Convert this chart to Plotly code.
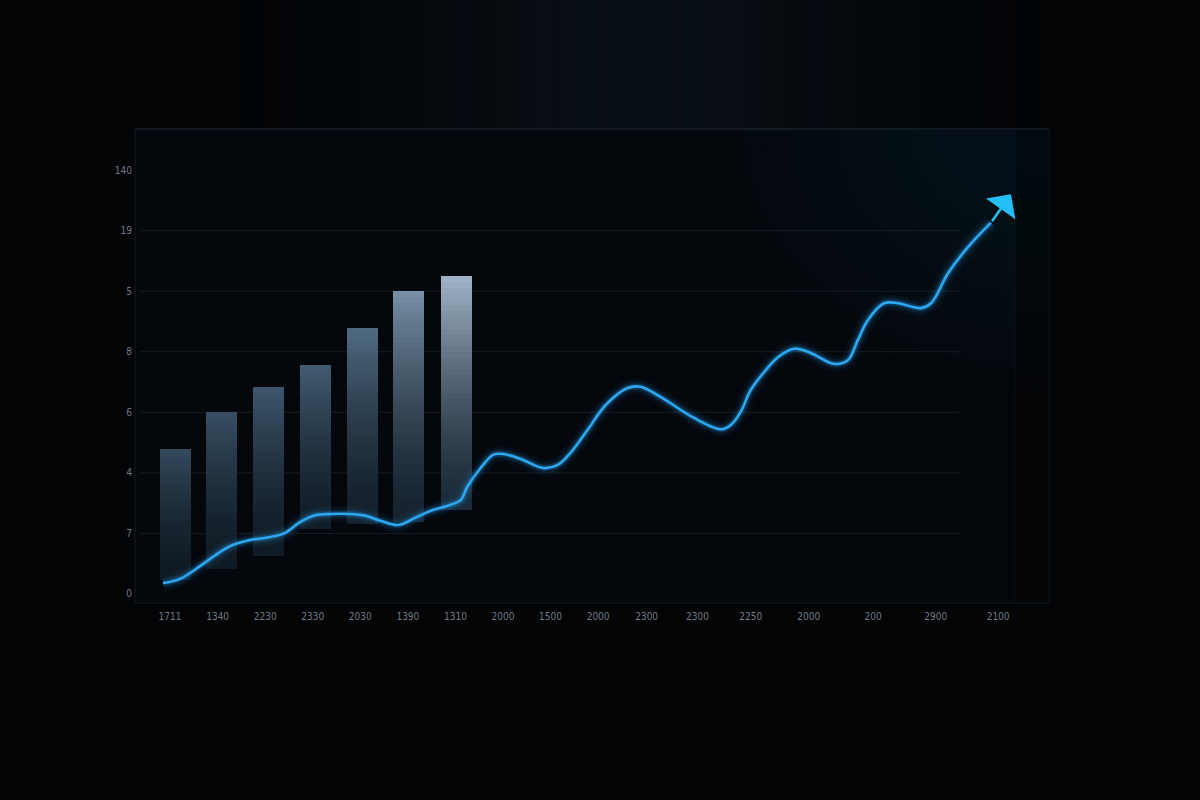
import math
import plotly.graph_objects as go

# ---------------- data ----------------
y_tick_vals = [0, 1, 2, 3, 4, 5, 6, 7]
y_tick_labels = ["0", "7", "4", "6", "8", "5", "19", "140"]

x_tick_vals = [0, 1, 2, 3, 4, 5, 6, 7, 8, 9, 10.02, 11.09, 12.21, 13.43, 14.78, 16.1, 17.41]
x_tick_labels = ["1711", "1340", "2230", "2330", "2030", "1390", "1310", "2000", "1500",
                 "2000", "2300", "2300", "2250", "2000", "200", "2900", "2100"]

bar_x = [0.11, 1.09, 2.07, 3.06, 4.04, 5.02, 6.02]
bar_top = [2.39, 3.00, 3.41, 3.78, 4.39, 5.00, 5.25]
bar_bottom = [0.23, 0.41, 0.63, 1.07, 1.16, 1.19, 1.39]
bar_top_colors = ["#33495c", "#384f63", "#3d566b", "#425c72", "#506b82", "#7790a6", "#a2b5c8"]
bar_bottom_colors = ["#0e1821", "#0f1a23", "#101b25", "#111d27", "#131f2a", "#15222e", "#1a2a38"]

line_x = [-0.15, 0.21, 0.63, 0.95, 1.26, 1.68, 2.11, 2.42, 2.74, 3.05, 3.37, 3.79, 4.11,
          4.42, 4.80, 5.16, 5.47, 5.89, 6.11, 6.25, 6.53, 6.80, 7.01, 7.37, 7.85, 8.15,
          8.42, 8.78, 9.16, 9.62, 9.89, 10.32, 11.01, 11.58, 11.79, 12.00, 12.21, 12.53,
          12.78, 13.12, 13.47, 13.96, 14.25, 14.46, 14.67, 15.01, 15.31, 15.79, 16.00,
          16.36, 16.78, 17.26]
line_y = [0.18, 0.25, 0.46, 0.64, 0.79, 0.89, 0.94, 1.01, 1.19, 1.30, 1.32, 1.32, 1.29,
          1.21, 1.14, 1.26, 1.37, 1.47, 1.55, 1.77, 2.08, 2.30, 2.31, 2.23, 2.08, 2.13,
          2.33, 2.71, 3.12, 3.40, 3.42, 3.25, 2.91, 2.72, 2.79, 3.01, 3.37, 3.70, 3.91,
          4.05, 3.98, 3.80, 3.86, 4.19, 4.52, 4.80, 4.80, 4.72, 4.80, 5.30, 5.73, 6.13]
arrow_tip_x = 17.68
arrow_tip_y = 6.60

# ---------------- layout geometry ----------------
L, R, T, B = 135, 1049, 129, 603
X_RANGE = [-0.737, 18.48]
Y_RANGE = [-0.149, 7.677]


def px(x):
    return (x - L) / (R - L)


def py(y):
    return (B - y) / (B - T)


def hex2rgb(h):
    h = h.lstrip("#")
    return tuple(int(h[i:i + 2], 16) for i in (0, 2, 4))


def mix(c0, c1, t):
    a, b = hex2rgb(c0), hex2rgb(c1)
    return "rgb(%d,%d,%d)" % tuple(round(a[i] + (b[i] - a[i]) * t) for i in range(3))


fig = go.Figure()

# gradient bars built from stacked slices
N = 40
sx, sbase, sh, scol = [], [], [], []
for i in range(len(bar_x)):
    b, t = bar_bottom[i], bar_top[i]
    step = (t - b) / N
    for k in range(N):
        f = (k + 0.5) / N
        sx.append(bar_x[i])
        sbase.append(b + k * step)
        sh.append(step * 1.08)
        scol.append(mix(bar_bottom_colors[i], bar_top_colors[i], f ** 1.5))
fig.add_trace(go.Bar(x=sx, base=sbase, y=sh, width=0.65,
                     marker=dict(color=scol, line=dict(width=0)),
                     hoverinfo="skip", showlegend=False))

# glowing line
for w, c in [(16, "rgba(30,150,235,0.05)"), (10, "rgba(30,150,235,0.10)"),
             (6, "rgba(40,160,240,0.22)")]:
    fig.add_trace(go.Scatter(x=line_x, y=line_y, mode="lines",
                             line=dict(color=c, width=w, shape="spline", smoothing=1.0),
                             hoverinfo="skip", showlegend=False))
fig.add_trace(go.Scatter(x=line_x, y=line_y, mode="lines",
                         line=dict(color="#2ea8f0", width=2.6, shape="spline", smoothing=1.0),
                         showlegend=False))

fig.add_annotation(x=arrow_tip_x, y=arrow_tip_y, ax=line_x[-1], ay=line_y[-1],
                   xref="x", yref="y", axref="x", ayref="y", text="",
                   showarrow=True, arrowhead=1, arrowsize=2.3, arrowwidth=2.6,
                   arrowcolor="#24c0f5", standoff=0, startstandoff=0)

shapes = []
# background glow, top centre: horizontal gaussian band made of thin strips
for s in range(80):
    x0 = 240 + s * 10
    xc = x0 + 5
    a = 0.55 * math.exp(-((xc - 640) / 230) ** 2)
    shapes.append(dict(type="rect", xref="paper", yref="paper", layer="below",
                       x0=px(x0), x1=px(x0 + 10.5), y0=py(0), y1=py(T),
                       fillcolor="rgba(14,24,34,%.3f)" % a, line=dict(width=0)))
# plot area fill
shapes.append(dict(type="rect", xref="paper", yref="paper", layer="below",
                   x0=0, x1=1, y0=0, y1=1, fillcolor="#04070b",
                   line=dict(color="#141b23", width=1)))
# top-right glow inside plot: quarter ellipses anchored at the corner
for k in range(12):
    rx = 330 - k * 24
    ry = 260 - k * 19
    pts = []
    for j in range(25):
        th = (math.pi / 2) * j / 24
        pts.append((R - rx * math.cos(th), T + ry * math.sin(th)))
    path = "M%.4f,%.4f " % (px(R), py(T))
    path += " ".join("L%.4f,%.4f" % (px(a), py(b)) for a, b in pts) + " Z"
    shapes.append(dict(type="path", xref="paper", yref="paper", layer="below", path=path,
                       fillcolor="rgba(18,34,48,0.07)", line=dict(width=0)))
# darker right strip
shapes.append(dict(type="rect", xref="paper", yref="paper", layer="below",
                   x0=px(1015), x1=1, y0=0, y1=1, fillcolor="rgba(0,0,0,0.4)",
                   line=dict(width=0)))
shapes.append(dict(type="line", xref="paper", yref="paper", layer="below",
                   x0=px(1015), x1=px(1015), y0=0, y1=1,
                   line=dict(color="rgba(20,30,40,0.5)", width=1)))
# top border highlight
shapes.append(dict(type="line", xref="paper", yref="paper", layer="below",
                   x0=0, x1=1, y0=1, y1=1, line=dict(color="#1a242e", width=1)))
# gridlines
for v in y_tick_vals[1:7]:
    shapes.append(dict(type="line", xref="x", yref="y", layer="below",
                       x0=-0.63, x1=16.6, y0=v, y1=v,
                       line=dict(color="rgba(34,44,54,0.6)", width=1)))

tick_font = dict(family="Liberation Sans Narrow, DejaVu Sans Condensed, Arial Narrow, sans-serif",
                 size=10, color="#707a85")

fig.update_layout(
    width=1200, height=800,
    margin=dict(l=L, r=1200 - R, t=T, b=800 - B, autoexpand=False),
    paper_bgcolor="#020406",
    plot_bgcolor="rgba(0,0,0,0)",
    barmode="overlay",
    bargap=0,
    showlegend=False,
    hovermode=False,
    shapes=shapes,
    xaxis=dict(range=X_RANGE, tickvals=x_tick_vals, ticktext=x_tick_labels,
               showgrid=False, zeroline=False, showline=False, ticks="",
               tickfont=tick_font, ticklabelstandoff=6, fixedrange=True),
    yaxis=dict(range=Y_RANGE, tickvals=y_tick_vals, ticktext=y_tick_labels,
               showgrid=False, zeroline=False, showline=False, ticks="",
               tickfont=tick_font, ticklabelstandoff=2, fixedrange=True),
)

fig.write_html("out.html", config={"displayModeBar": False},
               post_script="document.body.style.margin='0';document.body.style.background='#020406';")
